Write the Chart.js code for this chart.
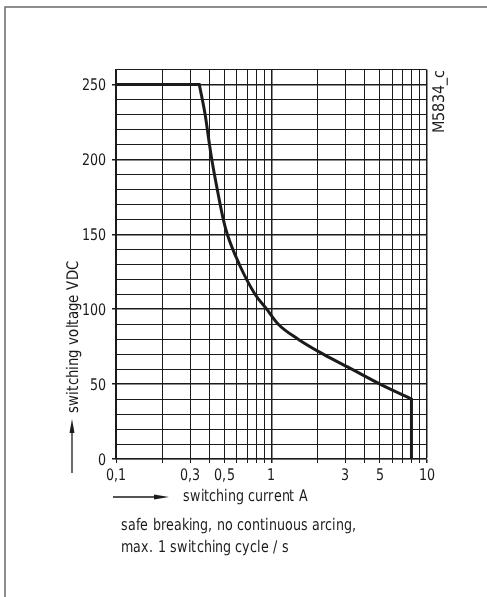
<!DOCTYPE html>
<html>
<head>
<meta charset="utf-8">
<script src="https://cdn.jsdelivr.net/npm/chart.js@4.4.1/dist/chart.umd.min.js"></script>
<style>
  @font-face {
    font-family: "CondSans";
    src: local("Liberation Sans Narrow"), local("LiberationSansNarrow-Regular"),
         local("DejaVu Sans Condensed"), local("DejaVuSansCondensed");
  }
  html, body { margin: 0; padding: 0; background: #fff; }
  #wrap { width: 487px; height: 597px; position: relative; }
</style>
</head>
<body>
<div id="wrap"><canvas id="chart" width="487" height="597"></canvas></div>
<script>
// switching current (A) / switching voltage (VDC)
const currentA = [0.1, 0.344, 0.375, 0.4, 0.414, 0.449, 0.491, 0.521, 0.622, 0.786, 0.935, 1.11, 1.49, 2.16, 3.3, 5.02, 8.0, 8.0];
const voltageV = [250, 250, 230, 210, 200, 180, 160, 150, 130, 110, 100, 90, 80, 70, 60, 50, 40, 0];

// log axis grid and labels
const xGridValues = [0.1, 0.2, 0.3, 0.4, 0.5, 0.6, 0.7, 0.8, 0.9, 1, 2, 3, 4, 5, 6, 7, 8, 9, 10];
const xTickValues = [0.1, 0.3, 0.5, 1, 3, 5, 10];
const xTickLabels = ['0,1', '0,3', '0,5', '1', '3', '5', '10'];
const yTickLabels = [0, 50, 100, 150, 200, 250];

const FONT = '"CondSans", "Liberation Sans Narrow", sans-serif';
const INK = '#1b1b1b';
const SQUEEZE = 0.88; // the original face is narrower than DejaVu Condensed

const points = currentA.map((x, i) => ({ x, y: voltageV[i] }));
const last = points.length - 1;
// flat top, smooth knee, vertical drop: the corners stay sharp
const segments = [
  { data: points.slice(0, 2), smooth: false },
  { data: points.slice(1, last), smooth: true },
  { data: points.slice(last - 1), smooth: false }
];

function squeezedText(ctx, text, x, y, align, rotated, sx = SQUEEZE) {
  ctx.save();
  ctx.translate(x, y);
  if (rotated) ctx.rotate(-Math.PI / 2);
  ctx.scale(sx, 1);
  ctx.textAlign = align;
  ctx.fillText(text, 0, 0);
  ctx.restore();
}

// tick labels, frame, axis titles, arrows, footnote
const decorPlugin = {
  id: 'decor',
  afterDraw(chart) {
    const ctx = chart.ctx;
    const a = chart.chartArea;
    const xs = chart.scales.x;
    const ys = chart.scales.y;
    ctx.save();

    // partial frame
    ctx.strokeStyle = '#6a6a6a';
    ctx.lineWidth = 1.5;
    ctx.beginPath();
    ctx.moveTo(5, 597);
    ctx.lineTo(5, 7);
    ctx.lineTo(487, 7);
    ctx.stroke();

    ctx.fillStyle = INK;
    ctx.strokeStyle = INK;
    ctx.font = '16px ' + FONT;

    // tick labels
    ctx.textBaseline = 'alphabetic';
    xTickValues.forEach((v, i) => {
      squeezedText(ctx, xTickLabels[i], xs.getPixelForValue(v), a.bottom + 21, 'center', false);
    });
    yTickLabels.forEach((v) => {
      squeezedText(ctx, String(v), a.left - 10, ys.getPixelForValue(v) + 6, 'right', false);
    });

    // y title + up arrow
    ctx.textBaseline = 'middle';
    squeezedText(ctx, 'switching voltage VDC', a.left - 42.5, 337, 'center', true, 0.92);

    const ax = a.left - 44;
    ctx.lineWidth = 1.3;
    ctx.beginPath();
    ctx.moveTo(ax, 473);
    ctx.lineTo(ax, 428);
    ctx.stroke();
    ctx.beginPath();
    ctx.moveTo(ax, 419);
    ctx.lineTo(ax - 2.5, 433);
    ctx.lineTo(ax + 2.5, 433);
    ctx.closePath();
    ctx.fill();

    // x arrow + title
    const ay = 497;
    ctx.beginPath();
    ctx.moveTo(a.left - 3, ay);
    ctx.lineTo(a.left + 42, ay);
    ctx.stroke();
    ctx.beginPath();
    ctx.moveTo(a.left + 53, ay);
    ctx.lineTo(a.left + 38, ay - 2.5);
    ctx.lineTo(a.left + 38, ay + 2.5);
    ctx.closePath();
    ctx.fill();

    squeezedText(ctx, 'switching current A', 183, ay, 'left', false);

    // footnote
    squeezedText(ctx, 'safe breaking, no continuous arcing,', 121, 526, 'left', false);
    squeezedText(ctx, 'max. 1 switching cycle / s', 121, 548, 'left', false);

    // drawing id
    ctx.textBaseline = 'alphabetic';
    squeezedText(ctx, 'M5834_c', a.right + 17, a.top + 32, 'center', true, 1);

    ctx.restore();
  }
};

function drawChart() {
  new Chart(document.getElementById('chart'), {
    type: 'line',
    data: {
      datasets: segments.map(s => ({
        data: s.data,
        borderColor: INK,
        borderWidth: 3,
        pointRadius: 0,
        fill: false,
        cubicInterpolationMode: s.smooth ? 'monotone' : 'default',
        tension: 0,
        borderCapStyle: 'round',
        borderJoinStyle: 'round'
      }))
    },
    options: {
      responsive: false,
      animation: false,
      layout: { padding: { left: 76, top: 69.5, right: 60.5, bottom: 108 } },
      plugins: {
        legend: { display: false },
        tooltip: { enabled: false }
      },
      scales: {
        x: {
          type: 'logarithmic',
          min: 0.1,
          max: 10,
          afterBuildTicks: (scale) => {
            scale.ticks = xGridValues.map(v => ({ value: v }));
          },
          afterFit: (scale) => { scale.height = 30; },
          border: { display: true, color: INK, width: 1.2 },
          grid: {
            color: INK,
            tickColor: INK,
            tickLength: 4,
            lineWidth: (c) => (c.tick && (c.tick.value === 1 || c.tick.value === 10) ? 1.5 : 1)
          },
          ticks: { display: false, autoSkip: false }
        },
        y: {
          type: 'linear',
          min: 0,
          max: 260,
          afterFit: (scale) => { scale.width = 40; },
          border: { display: true, color: INK, width: 1.2 },
          grid: {
            color: INK,
            tickLength: 4,
            tickColor: (c) => (c.tick && yTickLabels.includes(c.tick.value) ? INK : 'rgba(0,0,0,0)'),
            lineWidth: (c) => (c.tick && yTickLabels.includes(c.tick.value) ? 1.5 : 1)
          },
          ticks: { display: false, stepSize: 10, autoSkip: false }
        }
      }
    },
    plugins: [decorPlugin]
  });
}

document.fonts.load('16px "CondSans"').then(drawChart, drawChart);
</script>
</body>
</html>
